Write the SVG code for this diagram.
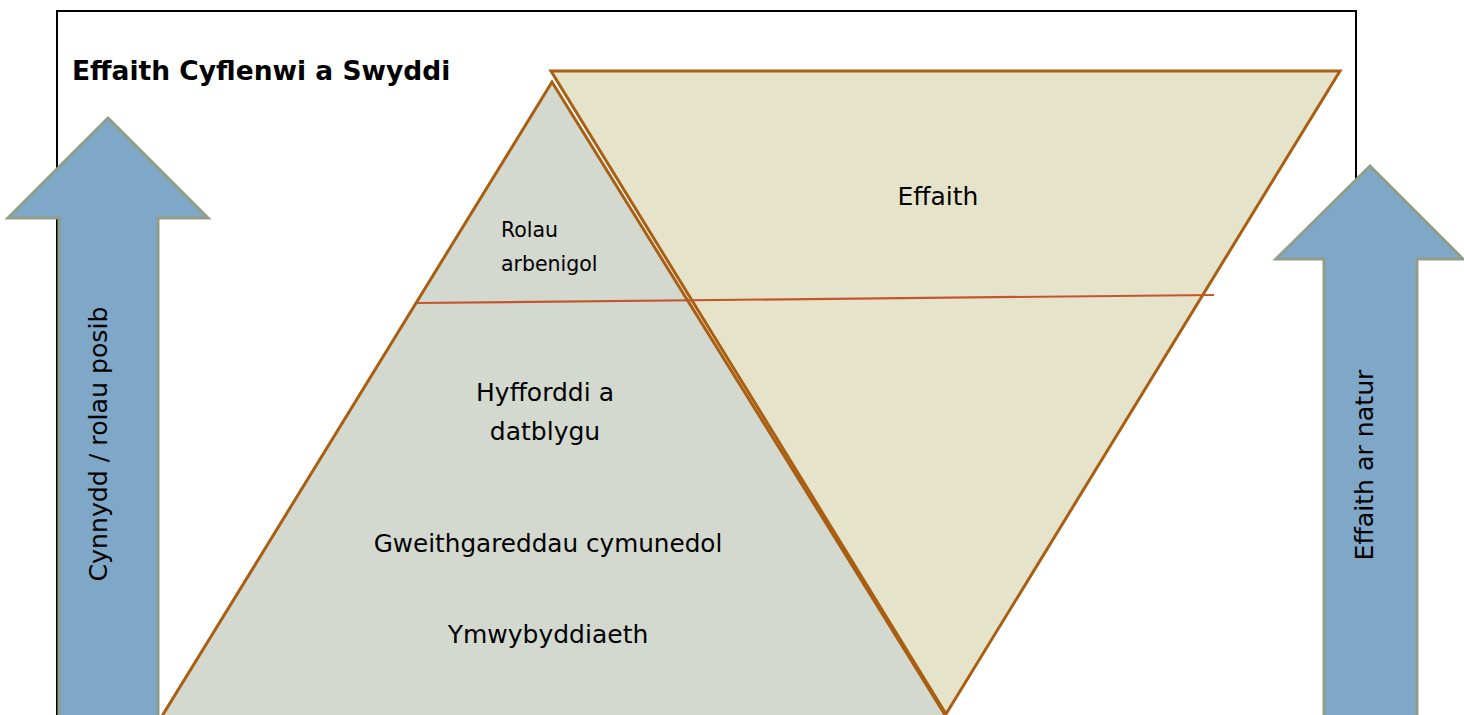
<svg xmlns="http://www.w3.org/2000/svg" width="1464" height="715" viewBox="0 0 1464 715">
  <style>
    .t { font-family: "DejaVu Sans", "Liberation Sans", sans-serif; fill: #000; }
    .arrow { fill: #7EA7C8; stroke: #919E87; stroke-width: 3; }
    .tri { stroke: #A85F12; stroke-width: 3; stroke-linejoin: miter; }
  </style>
  <rect width="1464" height="715" fill="#fff"/>
  <g id="frame">
    <rect x="57" y="11" width="1299" height="760" fill="none" stroke="#000" stroke-width="2"/>
  </g>
  <g id="title">
    <text class="t" x="72" y="80" font-size="26.5" font-weight="bold">Effaith Cyflenwi a Swyddi</text>
  </g>
  <g id="pyramid">
    <polygon class="tri" points="552,82 135,760 973,760" fill="#D3D9CF"/>
  </g>
  <g id="impact-triangle">
    <polygon class="tri" points="551,71 1340,71 946,714" fill="#E5E3CA"/>
    <text class="t" x="938" y="205" font-size="25" text-anchor="middle">Effaith</text>
  </g>
  <g id="divider">
    <line x1="417" y1="303" x2="1214" y2="295" stroke="#C4562F" stroke-width="2.2"/>
  </g>
  <g id="pyramid-labels">
    <text class="t" x="501" y="237" font-size="20.5">Rolau</text>
    <text class="t" x="501" y="271" font-size="20.5">arbenigol</text>
    <text class="t" x="545" y="401" font-size="25" text-anchor="middle">Hyfforddi a</text>
    <text class="t" x="545" y="440" font-size="25" text-anchor="middle">datblygu</text>
    <text class="t" x="548" y="552" font-size="24.7" text-anchor="middle">Gweithgareddau cymunedol</text>
    <text class="t" x="548" y="643" font-size="25" text-anchor="middle">Ymwybyddiaeth</text>
  </g>
  <g id="left-arrow">
    <polygon class="arrow" points="108,118 208,218 158,218 158,740 59,740 59,218 8,218"/>
    <text class="t" transform="translate(107,444) rotate(-90)" font-size="25.2" text-anchor="middle">Cynnydd / rolau posib</text>
  </g>
  <g id="right-arrow">
    <polygon class="arrow" points="1370,166 1463,259 1417,259 1417,740 1324,740 1324,259 1276,259"/>
    <text class="t" transform="translate(1373,465) rotate(-90)" font-size="25.2" text-anchor="middle">Effaith ar natur</text>
  </g>
</svg>
